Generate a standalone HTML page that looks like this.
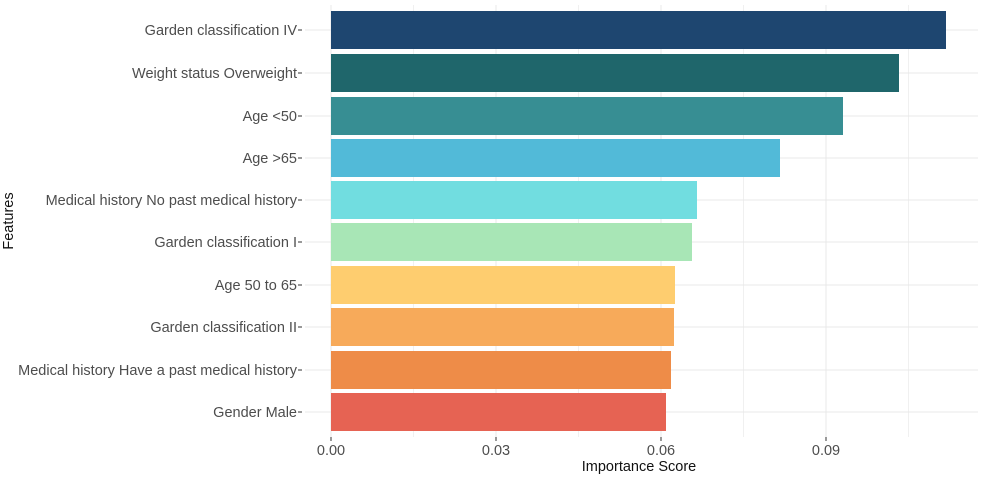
<!DOCTYPE html>
<html><head><meta charset="utf-8"><style>
body{margin:0;background:#fff;}
text{font-family:"Liberation Sans",sans-serif;}
</style></head><body>
<svg width="984" height="481" xmlns="http://www.w3.org/2000/svg">
<g stroke="#f0f0f0" stroke-width="1">
<line x1="413.5" y1="5" x2="413.5" y2="437"/><line x1="578.5" y1="5" x2="578.5" y2="437"/><line x1="743.5" y1="5" x2="743.5" y2="437"/><line x1="908.5" y1="5" x2="908.5" y2="437"/>
</g>
<g stroke="#e8e8e8" stroke-width="1">
<line x1="331" y1="5" x2="331" y2="437"/><line x1="496" y1="5" x2="496" y2="437"/><line x1="661" y1="5" x2="661" y2="437"/><line x1="826" y1="5" x2="826" y2="437"/>
<line x1="305" y1="30" x2="978" y2="30"/><line x1="305" y1="73" x2="978" y2="73"/><line x1="305" y1="116" x2="978" y2="116"/><line x1="305" y1="158" x2="978" y2="158"/><line x1="305" y1="200" x2="978" y2="200"/><line x1="305" y1="242" x2="978" y2="242"/><line x1="305" y1="285" x2="978" y2="285"/><line x1="305" y1="327" x2="978" y2="327"/><line x1="305" y1="370" x2="978" y2="370"/><line x1="305" y1="412" x2="978" y2="412"/>
</g>
<g>
<rect x="331" y="11" width="615" height="38" fill="#1e4670"/>
<rect x="331" y="54" width="568" height="38" fill="#1f666b"/>
<rect x="331" y="97" width="512" height="38" fill="#378e93"/>
<rect x="331" y="139" width="449" height="38" fill="#52bad8"/>
<rect x="331" y="181" width="366" height="38" fill="#71dde0"/>
<rect x="331" y="223" width="361" height="38" fill="#a8e6b6"/>
<rect x="331" y="266" width="344" height="38" fill="#fecd6f"/>
<rect x="331" y="308" width="343" height="38" fill="#f7aa5a"/>
<rect x="331" y="351" width="340" height="38" fill="#ee8c48"/>
<rect x="331" y="393" width="335" height="38" fill="#e66353"/>
</g>
<g font-size="14.5" fill="#4d4d4d" text-anchor="end">
<text x="297" y="35">Garden classification IV</text>
<text x="297" y="78">Weight status Overweight</text>
<text x="297" y="121">Age &lt;50</text>
<text x="297" y="163">Age &gt;65</text>
<text x="297" y="205">Medical history No past medical history</text>
<text x="297" y="247">Garden classification I</text>
<text x="297" y="290">Age 50 to 65</text>
<text x="297" y="332">Garden classification II</text>
<text x="297" y="375">Medical history Have a past medical history</text>
<text x="297" y="417">Gender Male</text>
</g>
<g stroke="#333" stroke-width="1">
<line x1="298" y1="30" x2="302" y2="30"/><line x1="298" y1="73" x2="302" y2="73"/><line x1="298" y1="116" x2="302" y2="116"/><line x1="298" y1="158" x2="302" y2="158"/><line x1="298" y1="200" x2="302" y2="200"/><line x1="298" y1="242" x2="302" y2="242"/><line x1="298" y1="285" x2="302" y2="285"/><line x1="298" y1="327" x2="302" y2="327"/><line x1="298" y1="370" x2="302" y2="370"/><line x1="298" y1="412" x2="302" y2="412"/>
<line x1="331" y1="437" x2="331" y2="441"/><line x1="496" y1="437" x2="496" y2="441"/><line x1="661" y1="437" x2="661" y2="441"/><line x1="826" y1="437" x2="826" y2="441"/>
</g>
<g font-size="14.5" fill="#4d4d4d" text-anchor="middle">
<text x="331" y="455">0.00</text><text x="496" y="455">0.03</text><text x="661" y="455">0.06</text><text x="826" y="455">0.09</text>
</g>
<text x="639" y="471" font-size="14.5" fill="#111" text-anchor="middle">Importance Score</text>
<text transform="translate(13,221) rotate(-90)" font-size="14.5" fill="#111" text-anchor="middle">Features</text>
</svg>
</body></html>
